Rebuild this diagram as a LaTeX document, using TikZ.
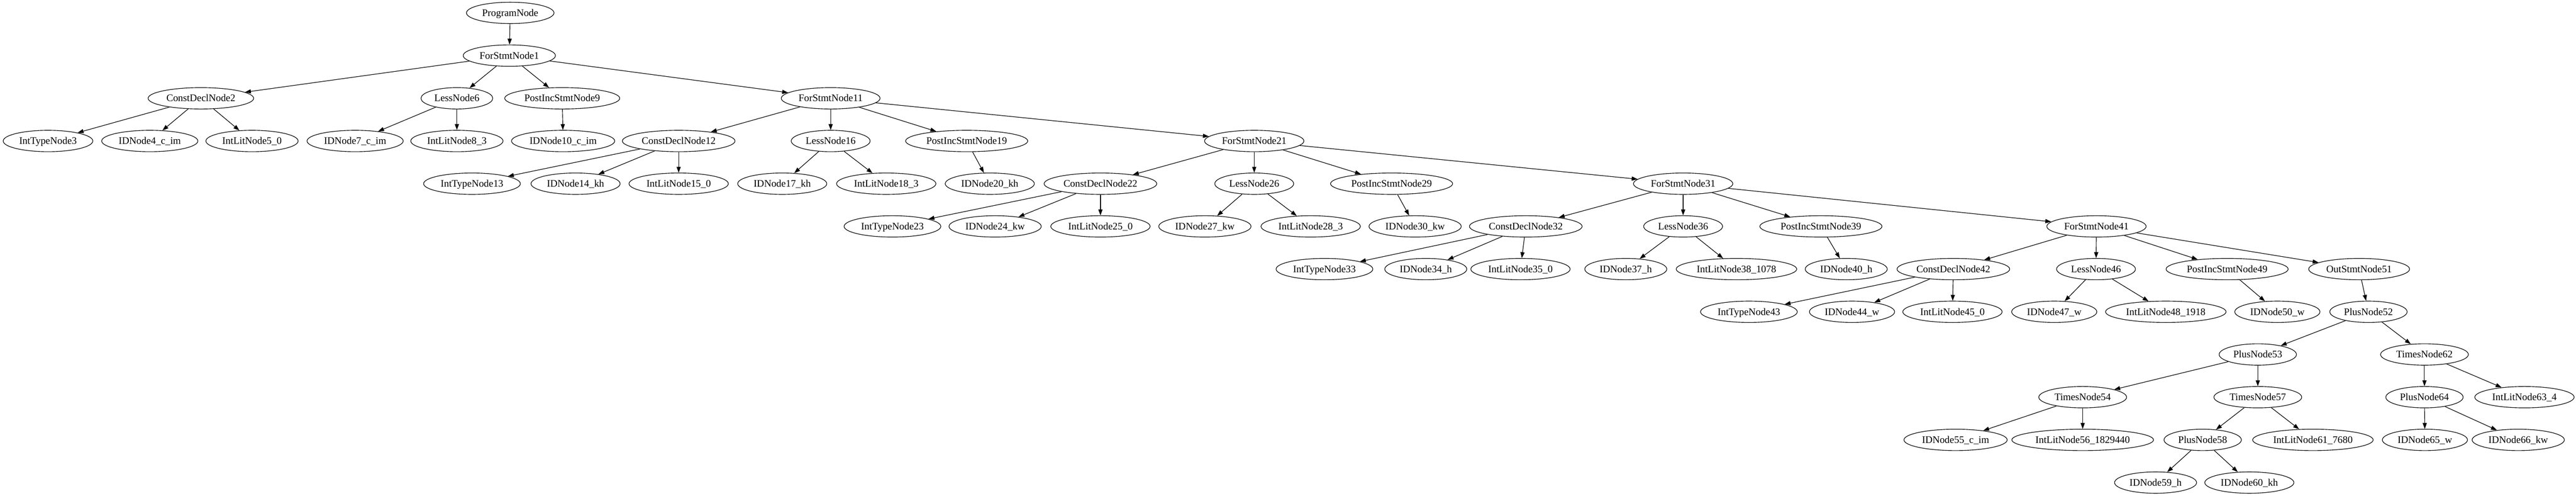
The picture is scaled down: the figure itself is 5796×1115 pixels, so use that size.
\documentclass[tikz,border=0pt]{standalone}
\usepackage{fontspec}
\setmainfont{Liberation Serif}
\usetikzlibrary{arrows.meta,shapes.geometric}
\begin{document}
\begin{tikzpicture}[x=1pt,y=-1pt,
  nd/.style={ellipse, draw, line width=1.33pt, inner xsep=6.5pt, inner ysep=2pt,
    minimum height=48pt, text height=14.7pt, text depth=0pt,
    font=\fontsize{22.5pt}{26pt}\selectfont},
  edge/.style={line width=1.33pt, -{Triangle[length=13.3pt,width=9.3pt]}}]
\useasboundingbox (0,0) rectangle (5796,1115);
% level 0
\node[nd] (n0) at (1148,29) {ProgramNode};
% level 1
\node[nd] (n1) at (1146,125) {ForStmtNode1};
% level 2
\node[nd] (n2) at (452,221) {ConstDeclNode2};
\node[nd] (n6) at (1028,221) {LessNode6};
\node[nd] (n9) at (1265,221) {PostIncStmtNode9};
\node[nd] (n11) at (1869,221) {ForStmtNode11};
% level 3
\node[nd] (n3) at (108,317) {IntTypeNode3};
\node[nd] (n4) at (337,317) {IDNode4\_c\_im};
\node[nd] (n5) at (567,317) {IntLitNode5\_0};
\node[nd] (n7) at (799,317) {IDNode7\_c\_im};
\node[nd] (n8) at (1028,317) {IntLitNode8\_3};
\node[nd] (n10) at (1267,317) {IDNode10\_c\_im};
\node[nd] (n12) at (1527,317) {ConstDeclNode12};
\node[nd] (n16) at (1869,317) {LessNode16};
\node[nd] (n19) at (2175,317) {PostIncStmtNode19};
\node[nd] (n21) at (2822,317) {ForStmtNode21};
% level 4
\node[nd] (n13) at (1062,413) {IntTypeNode13};
\node[nd] (n14) at (1295,413) {IDNode14\_kh};
\node[nd] (n15) at (1527,413) {IntLitNode15\_0};
\node[nd] (n17) at (1760,413) {IDNode17\_kh};
\node[nd] (n18) at (1994,413) {IntLitNode18\_3};
\node[nd] (n20) at (2227,413) {IDNode20\_kh};
\node[nd] (n22) at (2476,413) {ConstDeclNode22};
\node[nd] (n26) at (2822,413) {LessNode26};
\node[nd] (n29) at (3131,413) {PostIncStmtNode29};
\node[nd] (n31) at (3787,413) {ForStmtNode31};
% level 5
\node[nd] (n23) at (2008,509) {IntTypeNode23};
\node[nd] (n24) at (2239,509) {IDNode24\_kw};
\node[nd] (n25) at (2476,509) {IntLitNode25\_0};
\node[nd] (n27) at (2711,509) {IDNode27\_kw};
\node[nd] (n28) at (2949,509) {IntLitNode28\_3};
\node[nd] (n30) at (3184,509) {IDNode30\_kw};
\node[nd] (n32) at (3433,509) {ConstDeclNode32};
\node[nd] (n36) at (3787,509) {LessNode36};
\node[nd] (n39) at (4097,509) {PostIncStmtNode39};
\node[nd] (n41) at (4717,509) {ForStmtNode41};
% level 6
\node[nd] (n33) at (2980,605) {IntTypeNode33};
\node[nd] (n34) at (3208,605) {IDNode34\_h};
\node[nd] (n35) at (3421,605) {IntLitNode35\_0};
\node[nd] (n37) at (3658,605) {IDNode37\_h};
\node[nd] (n38) at (3907,605) {IntLitNode38\_1078};
\node[nd] (n40) at (4154,605) {IDNode40\_h};
\node[nd] (n42) at (4395,605) {ConstDeclNode42};
\node[nd] (n46) at (4716,605) {LessNode46};
\node[nd] (n49) at (5011,605) {PostIncStmtNode49};
\node[nd] (n51) at (5308,605) {OutStmtNode51};
% level 7
\node[nd] (n43) at (3935,701) {IntTypeNode43};
\node[nd] (n44) at (4167,701) {IDNode44\_w};
\node[nd] (n45) at (4393,701) {IntLitNode45\_0};
\node[nd] (n47) at (4622,701) {IDNode47\_w};
\node[nd] (n48) at (4873,701) {IntLitNode48\_1918};
\node[nd] (n50) at (5124,701) {IDNode50\_w};
\node[nd] (n52) at (5329,701) {PlusNode52};
% level 8
\node[nd] (n53) at (5080,797) {PlusNode53};
\node[nd] (n62) at (5455,797) {TimesNode62};
% level 9
\node[nd] (n54) at (4686,893) {TimesNode54};
\node[nd] (n57) at (5080,893) {TimesNode57};
\node[nd] (n64) at (5455,893) {PlusNode64};
\node[nd] (n63) at (5680,893) {IntLitNode63\_4};
% level 10
\node[nd] (n55) at (4400,989) {IDNode55\_c\_im};
\node[nd] (n56) at (4686,989) {IntLitNode56\_1829440};
\node[nd] (n58) at (4956,989) {PlusNode58};
\node[nd] (n61) at (5204,989) {IntLitNode61\_7680};
\node[nd] (n65) at (5456,989) {IDNode65\_w};
\node[nd] (n66) at (5666,989) {IDNode66\_kw};
% level 11
\node[nd] (n59) at (4850,1085) {IDNode59\_h};
\node[nd] (n60) at (5061,1085) {IDNode60\_kh};
% edges
\foreach \a/\b in {0/1,1/2,1/6,1/9,1/11,2/3,2/4,2/5,6/7,6/8,9/10,
  11/12,11/16,11/19,11/21,12/13,12/14,12/15,16/17,16/18,19/20,
  21/22,21/26,21/29,21/31,22/23,22/24,22/25,26/27,26/28,29/30,
  31/32,31/36,31/39,31/41,32/33,32/34,32/35,36/37,36/38,39/40,
  41/42,41/46,41/49,41/51,42/43,42/44,42/45,46/47,46/48,49/50,
  51/52,52/53,52/62,53/54,53/57,54/55,54/56,57/58,57/61,58/59,58/60,
  62/64,62/63,64/65,64/66}
  \draw[edge] (n\a) -- (n\b);
\end{tikzpicture}
\end{document}
